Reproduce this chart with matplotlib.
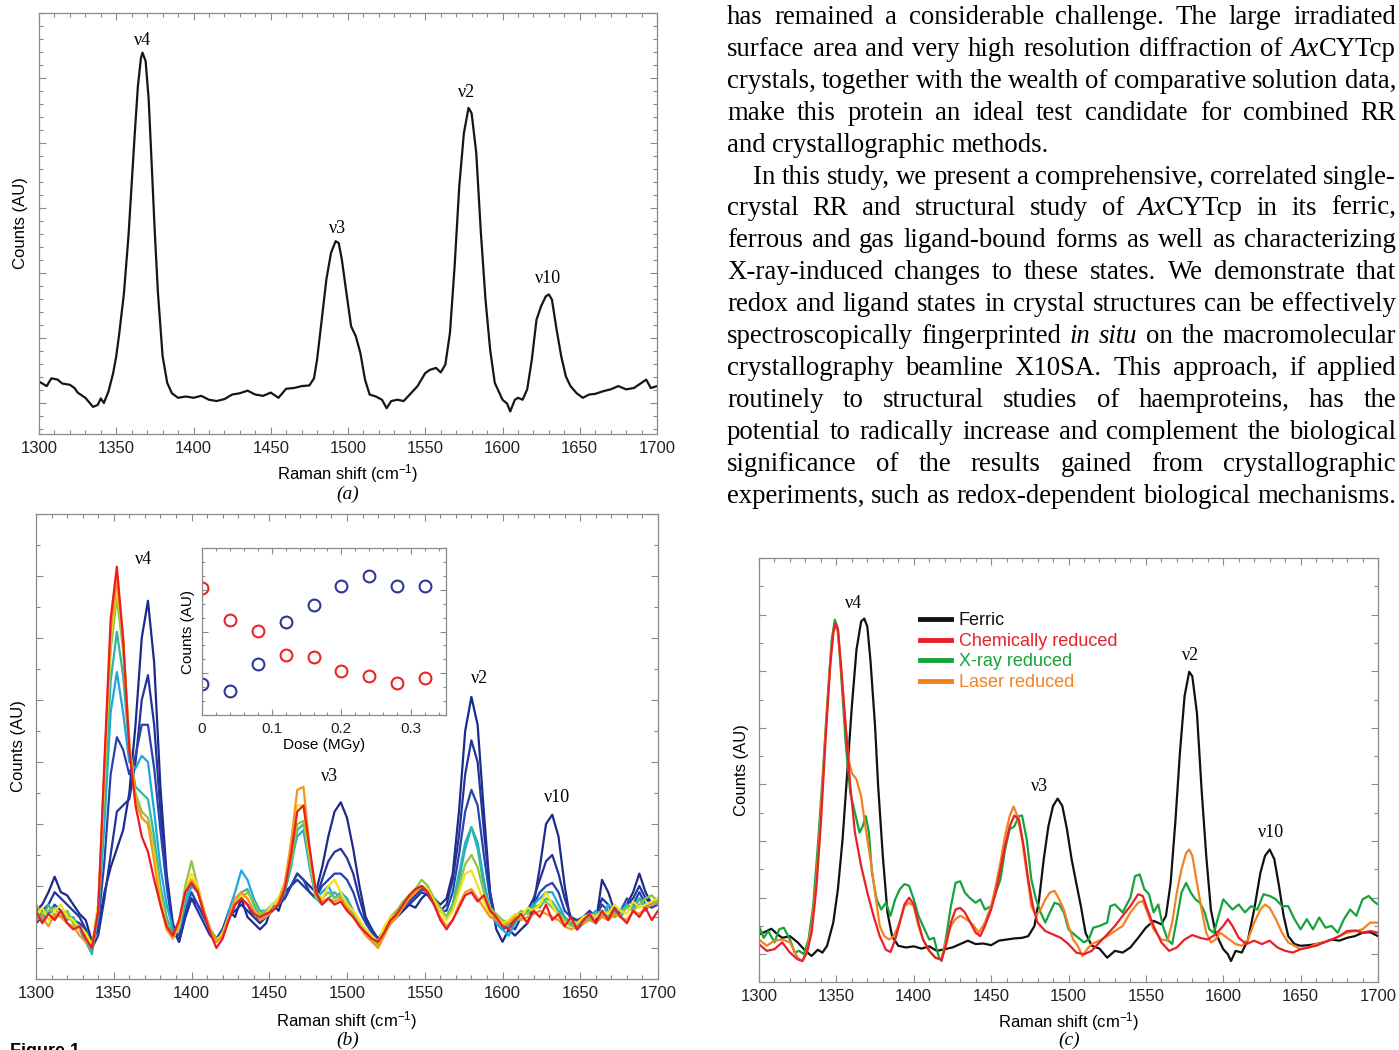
import numpy as np
import matplotlib
matplotlib.use('Agg')
import matplotlib.pyplot as plt
from matplotlib.ticker import MultipleLocator
from matplotlib.lines import Line2D

plt.rcParams['font.family'] = ['Liberation Sans', 'DejaVu Sans']
plt.rcParams['mathtext.default'] = 'regular'

W, H = 1399, 1050
SERIF = ['Liberation Serif', 'DejaVu Serif']

# ---------------- (a) ferric crystal spectrum ----------------
shift_a = [1300, 1305, 1308, 1312, 1315, 1320, 1323, 1325, 1330, 1335,
           1338, 1340, 1342, 1345, 1348, 1350, 1352, 1355, 1358, 1360,
           1362, 1364, 1366, 1367, 1369, 1371, 1373, 1375, 1377, 1380,
           1383, 1386, 1390, 1395, 1400, 1405, 1410, 1415, 1420, 1425,
           1430, 1435, 1440, 1445, 1450, 1455, 1460, 1465, 1470, 1475,
           1478, 1480, 1483, 1486, 1489, 1492, 1494, 1496, 1499, 1502,
           1505, 1508, 1511, 1514, 1518, 1522, 1525, 1528, 1532, 1536,
           1540, 1545, 1550, 1553, 1557, 1560, 1563, 1566, 1569, 1572,
           1575, 1578, 1580, 1583, 1586, 1589, 1592, 1595, 1600, 1603,
           1605, 1608, 1610, 1613, 1616, 1619, 1622, 1625, 1628, 1630,
           1632, 1635, 1638, 1641, 1644, 1648, 1652, 1656, 1660, 1665,
           1670, 1675, 1680, 1685, 1690, 1693, 1696, 1700]
counts_a = [0.33, 0.26, 0.38, 0.36, 0.30, 0.28, 0.23, 0.16, 0.08, -0.06,
            -0.03, 0.07, 0.0, 0.18, 0.46, 0.72, 1.08, 1.69, 2.6, 3.38,
            4.15, 4.87, 5.31, 5.39, 5.26, 4.67, 3.64, 2.6, 1.69, 0.72,
            0.31, 0.15, 0.08, 0.10, 0.08, 0.11, 0.05, 0.03, 0.06, 0.13,
            0.15, 0.19, 0.13, 0.11, 0.16, 0.08, 0.22, 0.23, 0.26, 0.27,
            0.38, 0.67, 1.28, 1.9, 2.31, 2.49, 2.46, 2.21, 1.69, 1.18,
            1.03, 0.77, 0.36, 0.13, 0.10, 0.05, -0.08, 0.03, 0.05, 0.03,
            0.13, 0.26, 0.46, 0.51, 0.54, 0.47, 0.59, 1.08, 2.1, 3.33,
            4.15, 4.54, 4.46, 3.85, 2.62, 1.59, 0.82, 0.31, 0.05, -0.01,
            -0.13, 0.05, 0.08, 0.05, 0.21, 0.67, 1.28, 1.49, 1.64, 1.67,
            1.59, 1.13, 0.72, 0.41, 0.26, 0.15, 0.08, 0.13, 0.14, 0.18,
            0.21, 0.26, 0.21, 0.23, 0.31, 0.36, 0.23, 0.26]

# ---------------- (b) dose series (every 4 cm-1) ----------------
shift_b = np.arange(1300, 1701, 4)
b_dose00 = [0.6, 0.7, 0.9, 1.15, 0.9, 0.85, 0.7, 0.55, 0.45, 0.1,
            0.3, 0.9, 1.3, 1.6, 1.9, 2.5, 3.6, 5.0, 5.6, 4.6,
            2.6, 1.2, 0.4, 0.1, 0.5, 0.8, 0.7, 0.5, 0.3, 0.15,
            0.3, 0.6, 0.5, 0.8, 0.5, 0.4, 0.3, 0.4, 0.7, 0.6,
            0.9, 1.0, 1.2, 1.1, 1.0, 0.9, 1.3, 1.8, 2.2, 2.35,
            2.1, 1.6, 1.0, 0.5, 0.3, 0.1, 0.25, 0.4, 0.5, 0.6,
            0.7, 0.65, 0.8, 0.9, 0.8, 0.7, 0.8, 1.2, 2.2, 3.5,
            4.05, 3.6, 2.2, 0.9, 0.3, 0.1, 0.3, 0.2, 0.3, 0.4,
            0.7, 1.3, 2.0, 2.15, 1.8, 1.0, 0.4, 0.3, 0.4, 0.5,
            0.4, 1.1, 0.9, 0.6, 0.5, 0.7, 0.9, 1.2, 0.9, 0.7,
            0.8]
b_dose04 = [0.5, 0.6, 0.7, 0.9, 0.8, 0.7, 0.6, 0.5, 0.3, 0.0,
            0.2, 0.8, 1.5, 2.2, 2.3, 2.4, 3.0, 4.0, 4.4, 3.6,
            2.2, 1.1, 0.3, 0.1, 0.5, 0.8, 0.6, 0.4, 0.2, 0.1,
            0.3, 0.5, 0.6, 0.7, 0.6, 0.5, 0.4, 0.5, 0.6, 0.7,
            0.8, 1.0, 1.1, 1.0, 0.9, 0.8, 1.1, 1.4, 1.55, 1.6,
            1.45, 1.2, 0.8, 0.45, 0.3, 0.15, 0.3, 0.4, 0.5, 0.6,
            0.7, 0.8, 0.9, 0.85, 0.7, 0.6, 0.7, 1.1, 1.8, 2.8,
            3.35, 3.0, 1.9, 0.9, 0.4, 0.3, 0.4, 0.3, 0.5, 0.6,
            0.8, 1.1, 1.4, 1.5, 1.2, 0.8, 0.5, 0.4, 0.5, 0.6,
            0.5, 0.8, 0.7, 0.5, 0.6, 0.7, 0.8, 1.0, 0.8, 0.7,
            0.75]
b_dose08 = [0.4, 0.5, 0.55, 0.7, 0.6, 0.5, 0.45, 0.4, 0.3, 0.05,
            0.4, 1.4, 2.8, 3.4, 3.2, 2.8, 3.1, 3.6, 3.6, 2.9,
            1.9, 1.0, 0.3, 0.2, 0.6, 0.9, 0.7, 0.5, 0.3, 0.1,
            0.3, 0.5, 0.7, 0.8, 0.7, 0.5, 0.45, 0.5, 0.6, 0.7,
            0.8, 1.0, 1.2, 1.1, 0.9, 0.8, 1.0, 1.1, 1.2, 1.2,
            1.1, 0.9, 0.6, 0.4, 0.25, 0.1, 0.3, 0.4, 0.5, 0.65,
            0.75, 0.85, 0.95, 0.9, 0.75, 0.6, 0.6, 0.9, 1.5, 2.2,
            2.55, 2.3, 1.5, 0.8, 0.4, 0.3, 0.35, 0.45, 0.5, 0.6,
            0.7, 0.9, 1.0, 1.05, 0.9, 0.6, 0.5, 0.45, 0.5, 0.55,
            0.5, 0.7, 0.6, 0.5, 0.6, 0.8, 0.7, 0.9, 0.7, 0.65,
            0.7]
b_dose12 = [0.5, 0.45, 0.6, 0.55, 0.5, 0.6, 0.4, 0.3, 0.2, -0.05,
            0.5, 2.0, 3.8, 4.45, 3.8, 3.0, 2.9, 3.1, 3.0, 2.2,
            1.3, 0.7, 0.3, 0.3, 0.7, 1.0, 0.9, 0.6, 0.3, 0.1,
            0.2, 0.6, 0.9, 1.25, 1.1, 0.8, 0.6, 0.6, 0.7, 0.8,
            1.0, 1.4, 1.8, 1.9, 1.3, 0.8, 0.9, 1.0, 0.8, 0.9,
            0.8, 0.6, 0.4, 0.3, 0.2, 0.1, 0.3, 0.5, 0.6, 0.7,
            0.8, 0.9, 1.0, 0.95, 0.8, 0.6, 0.5, 0.7, 1.1, 1.6,
            1.95, 1.7, 1.1, 0.6, 0.4, 0.3, 0.2, 0.4, 0.5, 0.6,
            0.7, 0.8, 0.9, 0.9, 0.7, 0.5, 0.4, 0.3, 0.4, 0.5,
            0.6, 0.5, 0.7, 0.6, 0.5, 0.7, 0.6, 0.8, 0.6, 0.75,
            0.7]
b_dose16 = [0.6, 0.5, 0.7, 0.5, 0.6, 0.45, 0.5, 0.3, 0.1, -0.1,
            0.6, 2.3, 4.3, 5.1, 4.4, 3.2, 2.6, 2.5, 2.4, 1.8,
            1.0, 0.5, 0.2, 0.3, 0.8, 1.1, 0.9, 0.6, 0.3, 0.1,
            0.2, 0.5, 0.7, 0.9, 0.95, 0.7, 0.5, 0.6, 0.65, 0.7,
            0.9, 1.3, 1.9, 2.0, 1.4, 0.8, 0.7, 0.8, 0.9, 0.8,
            0.7, 0.5, 0.4, 0.3, 0.15, 0.1, 0.3, 0.45, 0.6, 0.7,
            0.8, 0.9, 1.0, 0.9, 0.75, 0.6, 0.5, 0.7, 1.2, 1.7,
            1.95, 1.6, 1.0, 0.6, 0.5, 0.4, 0.35, 0.4, 0.5, 0.6,
            0.7, 0.65, 0.8, 0.75, 0.6, 0.5, 0.4, 0.35, 0.45, 0.5,
            0.55, 0.6, 0.5, 0.65, 0.6, 0.7, 0.65, 0.8, 0.7, 0.7,
            0.8]
b_dose20 = [0.7, 0.55, 0.6, 0.65, 0.5, 0.6, 0.4, 0.35, 0.2, 0.0,
            0.7, 2.6, 4.8, 5.65, 4.8, 3.3, 2.5, 2.2, 2.1, 1.6,
            0.9, 0.4, 0.2, 0.4, 1.0, 1.4, 1.0, 0.6, 0.3, 0.15,
            0.2, 0.45, 0.7, 0.8, 0.9, 0.75, 0.55, 0.6, 0.7, 0.8,
            1.0, 1.4, 2.0, 2.05, 1.4, 0.8, 0.8, 0.9, 0.8, 0.85,
            0.75, 0.55, 0.4, 0.25, 0.15, 0.05, 0.3, 0.5, 0.6, 0.75,
            0.85, 0.95, 1.1, 1.0, 0.8, 0.65, 0.5, 0.65, 1.0, 1.35,
            1.5, 1.3, 0.9, 0.65, 0.55, 0.45, 0.4, 0.5, 0.6, 0.55,
            0.65, 0.7, 0.75, 0.65, 0.55, 0.45, 0.35, 0.4, 0.5, 0.45,
            0.55, 0.5, 0.6, 0.5, 0.55, 0.65, 0.6, 0.7, 0.8, 0.85,
            0.75]
b_dose24 = [0.5, 0.65, 0.45, 0.6, 0.7, 0.5, 0.45, 0.3, 0.25, 0.05,
            0.7, 2.8, 5.0, 5.85, 5.0, 3.3, 2.4, 2.1, 2.0, 1.5,
            0.8, 0.35, 0.15, 0.35, 0.9, 1.2, 1.0, 0.6, 0.3, 0.1,
            0.25, 0.5, 0.7, 0.85, 0.8, 0.6, 0.5, 0.55, 0.7, 0.8,
            1.05, 1.6, 2.3, 2.3, 1.5, 0.9, 0.8, 1.0, 1.1, 0.9,
            0.7, 0.6, 0.45, 0.3, 0.2, 0.1, 0.35, 0.5, 0.55, 0.7,
            0.8, 0.9, 1.0, 0.95, 0.75, 0.6, 0.45, 0.6, 0.9, 1.2,
            1.25, 1.0, 0.75, 0.55, 0.5, 0.4, 0.45, 0.55, 0.5, 0.65,
            0.6, 0.7, 0.9, 0.7, 0.5, 0.4, 0.45, 0.4, 0.5, 0.55,
            0.5, 0.6, 0.55, 0.7, 0.6, 0.55, 0.75, 0.65, 0.7, 0.75,
            0.8]
b_dose28 = [0.45, 0.5, 0.35, 0.55, 0.5, 0.4, 0.35, 0.2, 0.1, 0.0,
            0.6, 2.9, 5.1, 5.95, 5.0, 3.3, 2.4, 2.1, 2.0, 1.4,
            0.7, 0.3, 0.15, 0.4, 0.9, 1.1, 0.95, 0.6, 0.3, 0.1,
            0.2, 0.5, 0.8, 0.9, 0.8, 0.6, 0.45, 0.5, 0.6, 0.75,
            1.05, 1.7, 2.55, 2.6, 1.6, 0.9, 0.75, 0.8, 0.75, 0.8,
            0.65, 0.5, 0.35, 0.2, 0.1, 0.0, 0.2, 0.4, 0.5, 0.65,
            0.8, 0.9, 1.0, 0.9, 0.7, 0.5, 0.35, 0.45, 0.7, 0.9,
            0.95, 0.8, 0.65, 0.5, 0.45, 0.35, 0.4, 0.5, 0.45, 0.5,
            0.55, 0.6, 0.55, 0.5, 0.45, 0.35, 0.3, 0.35, 0.4, 0.45,
            0.4, 0.5, 0.45, 0.55, 0.5, 0.45, 0.6, 0.55, 0.65, 0.7,
            0.75]
b_dose32 = [0.6, 0.4, 0.55, 0.45, 0.6, 0.4, 0.3, 0.35, 0.15, 0.0,
            0.6, 3.0, 5.3, 6.15, 5.0, 3.2, 2.3, 1.8, 1.55, 1.1,
            0.7, 0.35, 0.2, 0.45, 0.9, 1.05, 0.9, 0.55, 0.25, 0.0,
            0.15, 0.45, 0.7, 0.8, 0.7, 0.55, 0.5, 0.55, 0.6, 0.7,
            0.95, 1.5, 2.2, 2.3, 1.6, 0.9, 0.7, 0.8, 0.7, 0.75,
            0.6, 0.5, 0.35, 0.25, 0.15, 0.1, 0.25, 0.45, 0.55, 0.7,
            0.85, 0.95, 1.0, 0.9, 0.7, 0.45, 0.3, 0.45, 0.65, 0.85,
            0.9, 0.75, 0.85, 0.6, 0.5, 0.35, 0.3, 0.45, 0.55, 0.4,
            0.6, 0.5, 0.7, 0.45, 0.55, 0.35, 0.5, 0.3, 0.45, 0.55,
            0.4, 0.6, 0.45, 0.65, 0.5, 0.4, 0.6, 0.5, 0.65, 0.45,
            0.6]
spectra_b = [b_dose00, b_dose04, b_dose08, b_dose12, b_dose16,
             b_dose20, b_dose24, b_dose28, b_dose32]
colors_b = ['#1c2a8a', '#22339b', '#2742ad', '#1ea6df', '#2fb7a4',
            '#8cc63e', '#f2e11b', '#f7941e', '#ec1c24']

# inset: band intensities against dose
dose = [0, 0.04, 0.08, 0.12, 0.16, 0.20, 0.24, 0.28, 0.32]
band_red = [3.03, 2.27, 2.02, 1.44, 1.40, 1.06, 0.94, 0.77, 0.89]
band_blue = [0.74, 0.57, 1.23, 2.23, 2.63, 3.08, 3.34, 3.08, 3.08]

# ---------------- (c) comparison of states ----------------
shift_ferric = [1300, 1305, 1308, 1312, 1315, 1320, 1325, 1330, 1334, 1338,
                1341, 1344, 1348, 1351, 1354, 1357, 1360, 1363, 1366, 1368,
                1370, 1372, 1375, 1377, 1380, 1383, 1386, 1390, 1395, 1400,
                1405, 1410, 1415, 1420, 1425, 1430, 1435, 1440, 1445, 1450,
                1455, 1460, 1465, 1470, 1474, 1478, 1481, 1484, 1487, 1490,
                1493, 1496, 1499, 1502, 1505, 1508, 1511, 1515, 1520, 1525,
                1530, 1535, 1540, 1545, 1550, 1555, 1560, 1563, 1566, 1569,
                1572, 1575, 1578, 1580, 1583, 1586, 1589, 1592, 1595, 1600,
                1603, 1605, 1608, 1612, 1616, 1620, 1624, 1627, 1630, 1633,
                1636, 1639, 1642, 1646, 1650, 1655, 1660, 1665, 1670, 1675,
                1680, 1685, 1690, 1695, 1700]
ferric = [0.35, 0.41, 0.45, 0.35, 0.29, 0.32, 0.21, 0.06, -0.03, 0.08,
          0.03, 0.15, 0.56, 1.15, 2.03, 3.2, 4.38, 5.38, 5.88, 5.93,
          5.79, 5.2, 4.03, 2.97, 1.74, 0.74, 0.32, 0.15, 0.12, 0.14,
          0.10, 0.14, 0.06, 0.09, 0.12, 0.18, 0.24, 0.18, 0.19, 0.16,
          0.24, 0.26, 0.28, 0.29, 0.32, 0.5, 0.97, 1.68, 2.26, 2.62,
          2.75, 2.62, 2.21, 1.68, 1.26, 0.85, 0.38, 0.15, 0.10, -0.06,
          0.06, 0.03, 0.12, 0.29, 0.47, 0.59, 0.53, 0.68, 1.26, 2.32,
          3.56, 4.56, 4.99, 4.91, 4.26, 2.91, 1.74, 0.79, 0.38, 0.09,
          0.0, -0.12, 0.06, 0.03, 0.26, 0.79, 1.44, 1.74, 1.85, 1.68,
          1.21, 0.68, 0.32, 0.18, 0.15, 0.16, 0.18, 0.21, 0.26, 0.24,
          0.29, 0.32, 0.38, 0.39, 0.32]

shift_chem = [1300, 1305, 1310, 1315, 1320, 1325, 1328, 1331, 1334, 1337,
              1340, 1343, 1346, 1348, 1349.5, 1351, 1353, 1356, 1359, 1362,
              1366, 1370, 1374, 1378, 1382, 1385, 1388, 1391, 1394, 1397,
              1400, 1403, 1406, 1410, 1414, 1418, 1421, 1424, 1427, 1430,
              1433, 1436, 1440, 1443, 1446, 1450, 1453, 1456, 1459, 1462,
              1465, 1468, 1471, 1474, 1477, 1480, 1485, 1490, 1495, 1500,
              1505, 1510, 1515, 1520, 1525, 1530, 1535, 1540, 1545, 1548,
              1551, 1555, 1560, 1565, 1570, 1575, 1580, 1585, 1590, 1595,
              1600, 1603, 1606, 1610, 1615, 1620, 1625, 1630, 1635, 1640,
              1645, 1650, 1655, 1660, 1665, 1670, 1675, 1680, 1685, 1690,
              1695, 1700]
chem = [0.18, 0.06, 0.09, 0.21, 0.03, -0.09, -0.12, 0.03, 0.38, 1.15,
        2.32, 3.79, 5.09, 5.68, 5.85, 5.74, 5.09, 4.03, 2.97, 2.15,
        1.56, 1.09, 0.68, 0.32, 0.08, 0.04, 0.26, 0.56, 0.88, 1.0,
        0.88, 0.56, 0.26, 0.06, -0.06, -0.1, 0.18, 0.56, 0.79, 0.82,
        0.74, 0.59, 0.38, 0.32, 0.5, 0.79, 1.09, 1.5, 1.91, 2.26,
        2.45, 2.38, 1.91, 1.32, 0.85, 0.56, 0.41, 0.35, 0.29, 0.18,
        0.03, 0.0, 0.06, 0.21, 0.35, 0.5, 0.68, 0.85, 1.06, 1.03,
        0.79, 0.5, 0.21, 0.06, 0.12, 0.26, 0.34, 0.29, 0.26, 0.35,
        0.5, 0.62, 0.5, 0.29, 0.18, 0.24, 0.18, 0.24, 0.12, 0.06,
        0.03, 0.09, 0.12, 0.15, 0.21, 0.26, 0.32, 0.41, 0.42, 0.38,
        0.41, 0.38]

shift_xray = [1300, 1303, 1306, 1310, 1313, 1316, 1320, 1323, 1326, 1329,
              1332, 1335, 1338, 1341, 1344, 1347, 1349, 1351, 1353, 1356,
              1359, 1361, 1363, 1365, 1367, 1369, 1371, 1373, 1376, 1379,
              1382, 1385, 1388, 1391, 1394, 1397, 1400, 1403, 1406, 1410,
              1413, 1416, 1418, 1421, 1424, 1427, 1430, 1433, 1436, 1440,
              1443, 1446, 1450, 1453, 1456, 1459, 1462, 1465, 1468, 1470,
              1473, 1476, 1479, 1482, 1485, 1488, 1491, 1494, 1497, 1500,
              1505, 1510, 1513, 1516, 1520, 1525, 1527, 1530, 1535, 1540,
              1543, 1546, 1549, 1552, 1555, 1558, 1561, 1564, 1567, 1570,
              1573, 1576, 1579, 1582, 1585, 1588, 1591, 1594, 1597, 1600,
              1603, 1606, 1610, 1614, 1618, 1622, 1626, 1630, 1634, 1638,
              1642, 1646, 1650, 1654, 1658, 1662, 1666, 1670, 1674, 1678,
              1682, 1686, 1690, 1694, 1697, 1700]
xray = [0.5, 0.29, 0.41, 0.21, 0.44, 0.47, 0.26, 0.03, 0.06, 0.0,
        0.26, 0.85, 1.91, 3.09, 4.38, 5.56, 5.91, 5.74, 4.97, 3.74,
        2.85, 2.62, 2.38, 2.15, 2.26, 2.44, 2.15, 1.44, 0.97, 0.79,
        0.91, 0.68, 0.97, 1.15, 1.24, 1.21, 0.97, 0.68, 0.5, 0.26,
        0.29, -0.03, -0.12, 0.32, 0.85, 1.26, 1.29, 1.09, 1.0, 0.91,
        0.97, 0.79, 0.85, 1.09, 1.32, 1.85, 2.21, 2.26, 2.44, 2.45,
        2.03, 1.32, 0.97, 0.74, 0.56, 0.74, 0.91, 0.88, 0.74, 0.44,
        0.32, 0.21, 0.26, 0.47, 0.5, 0.56, 0.85, 0.88, 0.74, 1.0,
        1.38, 1.41, 1.15, 1.06, 0.74, 0.88, 0.5, 0.26, 0.18, 0.62,
        1.09, 1.26, 1.09, 0.97, 0.91, 0.74, 0.44, 0.38, 0.68, 0.97,
        0.88, 0.79, 0.88, 0.74, 0.85, 0.79, 1.06, 1.03, 0.97, 0.85,
        0.85, 0.62, 0.44, 0.62, 0.44, 0.65, 0.47, 0.5, 0.38, 0.62,
        0.79, 0.68, 0.97, 1.03, 0.94, 0.88]

shift_laser = [1300, 1305, 1310, 1315, 1320, 1325, 1328, 1331, 1334, 1337,
               1340, 1343, 1346, 1348, 1349.5, 1351, 1353, 1356, 1358, 1360,
               1363, 1366, 1369, 1372, 1375, 1378, 1381, 1384, 1387, 1390,
               1394, 1397, 1400, 1403, 1406, 1410, 1414, 1418, 1421, 1424,
               1427, 1430, 1434, 1438, 1442, 1446, 1450, 1453, 1456, 1459,
               1462, 1464.5, 1467, 1470, 1473, 1476, 1479, 1482, 1485, 1488,
               1491, 1494, 1497, 1500, 1503, 1506, 1509, 1512, 1515, 1520,
               1525, 1530, 1535, 1540, 1545, 1548, 1551, 1555, 1560, 1564,
               1567, 1570, 1573, 1576, 1578, 1580, 1583, 1586, 1589, 1592,
               1595, 1598, 1601, 1604, 1608, 1612, 1616, 1620, 1624, 1627,
               1630, 1634, 1638, 1642, 1646, 1650, 1655, 1660, 1665, 1670,
               1675, 1680, 1685, 1690, 1695, 1700]
laser = [0.26, 0.15, 0.24, 0.26, 0.21, -0.06, -0.12, 0.06, 0.5, 1.26,
         2.5, 3.91, 5.15, 5.68, 5.82, 5.68, 5.09, 4.03, 3.44, 3.2,
         3.09, 2.79, 2.21, 1.68, 1.09, 0.5, 0.32, 0.26, 0.32, 0.5,
         0.85, 0.91, 0.85, 0.5, 0.26, 0.06, -0.06, -0.09, 0.26, 0.5,
         0.62, 0.68, 0.62, 0.53, 0.38, 0.56, 0.85, 1.21, 1.62, 2.09,
         2.44, 2.61, 2.44, 2.03, 1.44, 0.85, 0.68, 0.79, 0.97, 1.09,
         1.12, 0.97, 0.79, 0.5, 0.26, 0.15, -0.03, 0.09, 0.18, 0.24,
         0.32, 0.41, 0.5, 0.74, 0.91, 0.94, 0.74, 0.44, 0.26, 0.24,
         0.56, 1.09, 1.5, 1.79, 1.85, 1.74, 1.26, 0.79, 0.38, 0.21,
         0.26, 0.38, 0.32, 0.26, 0.18, 0.15, 0.26, 0.56, 0.79, 0.88,
         0.82, 0.62, 0.38, 0.21, 0.15, 0.09, 0.12, 0.18, 0.21, 0.26,
         0.32, 0.38, 0.41, 0.44, 0.56, 0.56]

state_labels = ['Ferric', 'Chemically reduced', 'X-ray reduced', 'Laser reduced']
state_colors = ['#111111', '#e8202a', '#16a33b', '#f58220']

# band labels: (text, shift, height) per panel
bands_a = [('ν4', 1367, 5.58), ('ν3', 1493.5, 2.68), ('ν2', 1577, 4.77), ('ν10', 1629.5, 1.92)]
bands_b = [('ν4', 1369, 6.26), ('ν3', 1489, 2.76), ('ν2', 1585.5, 4.34), ('ν10', 1635, 2.42)]
bands_c = [('ν4', 1361, 6.19), ('ν3', 1481.5, 2.96), ('ν2', 1579, 5.27), ('ν10', 1631, 2.15)]

body_lines = [
    ("has remained a considerable challenge. The large irradiated", 0, True),
    ("surface area and very high resolution diffraction of _Ax_CYTcp", 0, True),
    ("crystals, together with the wealth of comparative solution data,", 0, True),
    ("make this protein an ideal test candidate for combined RR", 0, True),
    ("and crystallographic methods.", 0, False),
    ("In this study, we present a comprehensive, correlated single-", 26, True),
    ("crystal RR and structural study of _Ax_CYTcp in its ferric,", 0, True),
    ("ferrous and gas ligand-bound forms as well as characterizing", 0, True),
    ("X-ray-induced changes to these states. We demonstrate that", 0, True),
    ("redox and ligand states in crystal structures can be effectively", 0, True),
    ("spectroscopically fingerprinted _in situ_ on the macromolecular", 0, True),
    ("crystallography beamline X10SA. This approach, if applied", 0, True),
    ("routinely to structural studies of haemproteins, has the", 0, True),
    ("potential to radically increase and complement the biological", 0, True),
    ("significance of the results gained from crystallographic", 0, True),
    ("experiments, such as redox-dependent biological mechanisms.", 0, True),
]


def box(left, top, right, bottom):
    return [left / W, 1 - bottom / H, (right - left) / W, (bottom - top) / H]


def style_spectrum_axes(ax, ylim, ymajor, yminor):
    ax.set_xlim(1300, 1700)
    ax.set_ylim(*ylim)
    ax.xaxis.set_major_locator(MultipleLocator(50))
    ax.xaxis.set_minor_locator(MultipleLocator(10))
    ax.yaxis.set_major_locator(MultipleLocator(ymajor))
    ax.yaxis.set_minor_locator(MultipleLocator(yminor))
    ax.tick_params(which='both', direction='in', top=True, right=True,
                   color='#8a8a8a', width=0.8, labelleft=False,
                   labelsize=12, labelcolor='#222222', pad=5)
    ax.tick_params(which='major', length=5)
    ax.tick_params(which='minor', length=3)
    for s in ax.spines.values():
        s.set_color('#8a8a8a')
        s.set_linewidth(0.9)
    ax.set_xlabel('Raman shift (cm$^{-1}$)', fontsize=12)
    ax.set_ylabel('Counts (AU)', fontsize=12)


def band_labels(ax, bands):
    for text, x, y in bands:
        ax.text(x, y, text, ha='center', va='center', fontsize=13, family=SERIF)


fig = plt.figure(figsize=(W / 100, H / 100), dpi=100)

# (a)
ax_a = fig.add_axes(box(39, 13, 657, 434))
ax_a.plot(shift_a, counts_a, color='#151515', lw=1.6)
style_spectrum_axes(ax_a, (-0.477, 6.0), 1, 0.2)
ax_a.yaxis.set_label_coords(-0.018, 0.5)
ax_a.xaxis.set_label_coords(0.5, -0.066)
band_labels(ax_a, bands_a)

# (b)
ax_b = fig.add_axes(box(36, 514, 658, 979))
for vals, col in zip(spectra_b, colors_b):
    ax_b.plot(shift_b, vals, color=col, lw=1.6)
style_spectrum_axes(ax_b, (-0.5, 7.0), 1, 0.5)
ax_b.yaxis.set_label_coords(-0.016, 0.5)
ax_b.xaxis.set_label_coords(0.5, -0.064)
band_labels(ax_b, bands_b)

ax_in = fig.add_axes(box(202, 548, 446, 715))
ax_in.plot(dose, band_red, 'o', ms=8.5, mfc='none', mec='#e8262a', mew=1.5)
ax_in.plot(dose, band_blue, 'o', ms=8.5, mfc='none', mec='#2b3a97', mew=1.5)
ax_in.set_xlim(0, 0.35)
ax_in.set_ylim(0, 4)
ax_in.set_xticks([0, 0.1, 0.2, 0.3], ['0', '0.1', '0.2', '0.3'])
ax_in.xaxis.set_minor_locator(MultipleLocator(0.02))
ax_in.yaxis.set_major_locator(MultipleLocator(1))
ax_in.yaxis.set_minor_locator(MultipleLocator(1 / 3))
ax_in.tick_params(which='both', direction='in', top=True, right=True,
                  color='#8a8a8a', width=0.8, labelleft=False,
                  labelsize=11, labelcolor='#222222', pad=5)
ax_in.tick_params(which='major', length=4)
ax_in.tick_params(which='minor', length=2)
for s in ax_in.spines.values():
    s.set_color('#8a8a8a')
    s.set_linewidth(0.9)
ax_in.set_xlabel('Dose (MGy)', fontsize=11)
ax_in.set_ylabel('Counts (AU)', fontsize=11)
ax_in.xaxis.set_label_coords(0.5, -0.14)
ax_in.yaxis.set_label_coords(-0.03, 0.5)

# (c)
ax_c = fig.add_axes(box(759, 558, 1378, 982))
ax_c.plot(shift_ferric, ferric, color=state_colors[0], lw=1.6)
ax_c.plot(shift_xray, xray, color=state_colors[2], lw=1.6)
ax_c.plot(shift_laser, laser, color=state_colors[3], lw=1.6)
ax_c.plot(shift_chem, chem, color=state_colors[1], lw=1.6)
style_spectrum_axes(ax_c, (-0.49, 7.0), 1, 0.5)
ax_c.yaxis.set_label_coords(-0.016, 0.5)
ax_c.xaxis.set_label_coords(0.5, -0.066)
band_labels(ax_c, bands_c)
handles = [Line2D([], [], color=c, lw=3.5) for c in state_colors]
ax_c.legend(handles, state_labels, loc='upper left', bbox_to_anchor=(0.26, 0.872),
            frameon=False, fontsize=13, handlelength=1.7, handletextpad=0.45,
            labelspacing=0.2, borderpad=0, borderaxespad=0, labelcolor='linecolor')

# panel captions
for label, px, py in [('(a)', 348, 494), ('(b)', 348, 1040), ('(c)', 1069, 1040)]:
    fig.text(px / W, 1 - py / H, label, ha='center', va='center',
             fontsize=14, family=SERIF, style='italic')
fig.text(10 / W, 1 - 1043 / H, 'Figure 1.', ha='left', va='top',
         fontsize=13, fontweight='bold', family=['Liberation Sans', 'DejaVu Sans'])

# justified body text on the right
renderer = fig.canvas.get_renderer()


def text_width(s, size, italic=False):
    t = fig.text(0, 0, s, fontsize=size, family=SERIF, style='italic' if italic else 'normal')
    w = t.get_window_extent(renderer).width
    t.remove()
    return w


body_size = 18 * 322 / text_width('and crystallographic methods.', 18)
space_w = text_width('a a', body_size) - text_width('aa', body_size)


def parse(line):
    words, italic = [], False
    for w in line.split(' '):
        segs = []
        for k, part in enumerate(w.split('_')):
            if k > 0:
                italic = not italic
            if part:
                segs.append((part, italic))
        words.append(segs)
    return words


x_left, x_right = 727, 1396
for i, (line, indent, justify) in enumerate(body_lines):
    base = 24 + 31.9 * i
    words = parse(line)
    widths = [[text_width(t, body_size, it) for t, it in w] for w in words]
    total = sum(sum(ws) for ws in widths)
    x0 = x_left + indent
    gap = (x_right - x0 - total) / (len(words) - 1) if justify else space_w
    x = x0
    for w, ws in zip(words, widths):
        for (t, it), sw in zip(w, ws):
            fig.text(x / W, 1 - base / H, t, fontsize=body_size, family=SERIF,
                     style='italic' if it else 'normal', ha='left', va='baseline')
            x += sw
        x += gap

fig.savefig('out.png', dpi=100)
